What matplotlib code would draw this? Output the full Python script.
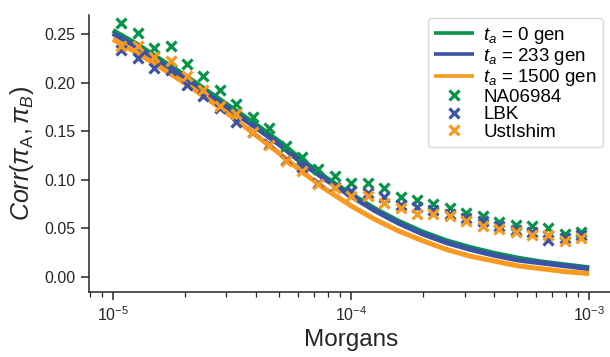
import numpy as np
import matplotlib
matplotlib.use('Agg')
import matplotlib.pyplot as plt

plt.rcParams['font.family'] = ['Liberation Sans', 'DejaVu Sans']
plt.rcParams['mathtext.fontset'] = 'custom'
plt.rcParams['mathtext.rm'] = 'Liberation Sans'
plt.rcParams['mathtext.it'] = 'Liberation Sans:italic'
plt.rcParams['mathtext.bf'] = 'Liberation Sans:bold'

# bin edges of the data (Morgans), points sit at bin midpoints
edges = np.logspace(-5, -3, 30)
x_pts = (edges[:-1] + edges[1:]) / 2

na06984 = [0.262, 0.251, 0.236, 0.238, 0.219, 0.207, 0.193, 0.178, 0.165, 0.153,
           0.135, 0.123, 0.111, 0.104, 0.097, 0.097, 0.091, 0.082, 0.079, 0.075,
           0.071, 0.066, 0.062, 0.056, 0.053, 0.052, 0.050, 0.044, 0.046]
lbk = [0.234, 0.226, 0.215, 0.213, 0.198, 0.186, 0.174, 0.160, 0.149, 0.137,
       0.120, 0.113, 0.097, 0.092, 0.088, 0.086, 0.082, 0.074, 0.072, 0.069,
       0.065, 0.060, 0.057, 0.052, 0.048, 0.046, 0.038, 0.040, 0.043]
ustishim = [0.238, 0.238, 0.227, 0.222, 0.207, 0.193, 0.176, 0.168, 0.149, 0.136,
            0.119, 0.109, 0.096, 0.091, 0.083, 0.083, 0.076, 0.071, 0.065, 0.065,
            0.062, 0.057, 0.052, 0.049, 0.046, 0.043, 0.043, 0.037, 0.040]

log_x_line = [-5.0, -4.9, -4.8, -4.7, -4.6, -4.5, -4.4, -4.3, -4.2, -4.1, -4.0,
              -3.9, -3.8, -3.7, -3.6, -3.5, -3.4, -3.3, -3.2, -3.1, -3.0]
x_line = [10 ** v for v in log_x_line]
ta0 = [0.254, 0.240, 0.224, 0.208, 0.191, 0.174, 0.157, 0.139, 0.119, 0.101, 0.085,
       0.070, 0.057, 0.046, 0.037, 0.030, 0.024, 0.019, 0.015, 0.012, 0.009]
ta233 = [0.251, 0.237, 0.221, 0.205, 0.188, 0.171, 0.154, 0.136, 0.116, 0.099, 0.083,
         0.068, 0.055, 0.044, 0.035, 0.028, 0.022, 0.017, 0.014, 0.011, 0.008]
ta1500 = [0.245, 0.231, 0.216, 0.200, 0.183, 0.165, 0.146, 0.127, 0.107, 0.089, 0.073,
          0.059, 0.047, 0.037, 0.028, 0.021, 0.016, 0.011, 0.008, 0.005, 0.003]

green = '#07934a'
blue = '#3a53a4'
orange = '#f89a1f'

fig = plt.figure(figsize=(6.1, 3.57), dpi=100)
ax = fig.add_axes([89 / 610, 1 - 292 / 357, 524 / 610, (292 - 15) / 357])

line_kw = dict(lw=3.6, solid_joinstyle='round', solid_capstyle='butt')
ax.plot(x_line, ta0, color=green, label='$t_a$ = 0 gen', **line_kw)
ax.plot(x_line, ta233, color=blue, label='$t_a$ = 233 gen', **line_kw)
ax.plot(x_line, ta1500, color=orange, label='$t_a$ = 1500 gen', **line_kw)
ax.plot(x_pts, na06984, 'x', color=green, ms=7.5, mew=2.3, label='NA06984')
ax.plot(x_pts, lbk, 'x', color=blue, ms=7.5, mew=2.3, label='LBK')
ax.plot(x_pts, ustishim, 'x', color=orange, ms=7.5, mew=2.3, label='UstIshim')

ax.set_xscale('log')
ax.set_xlim(10 ** -5.1, 10 ** -2.9)
ax.set_ylim(-0.016, 0.27)
ax.set_yticks([0.0, 0.05, 0.10, 0.15, 0.20, 0.25])
ax.set_yticklabels(['0.00', '0.05', '0.10', '0.15', '0.20', '0.25'])

for s in ['top', 'right']:
    ax.spines[s].set_visible(False)
for s in ['left', 'bottom']:
    ax.spines[s].set_color('#262626')
    ax.spines[s].set_linewidth(1.1)
ax.tick_params(axis='both', which='major', length=6, width=1.1, color='#262626',
               labelsize=11.5, labelcolor='#262626')
ax.tick_params(axis='x', which='minor', length=3.5, width=0.9, color='#262626')

ax.set_xlabel('Morgans', fontsize=17.5, color='#262626')
ax.set_ylabel(r'$Corr(\pi_{\rm A}, \pi_B)$', fontsize=18, color='#262626', labelpad=6)

leg = ax.legend(loc='upper right', bbox_to_anchor=(603 / 610, 1 - 18 / 357),
                bbox_transform=fig.transFigure, borderaxespad=0, fontsize=13.5,
                labelspacing=0.02, handlelength=2.1, handletextpad=0.5,
                borderpad=0.35, frameon=True, fancybox=True, edgecolor='#cccccc')
for h in leg.get_lines()[:3]:
    h.set_linewidth(2.6)

fig.savefig('out.png', dpi=100)
